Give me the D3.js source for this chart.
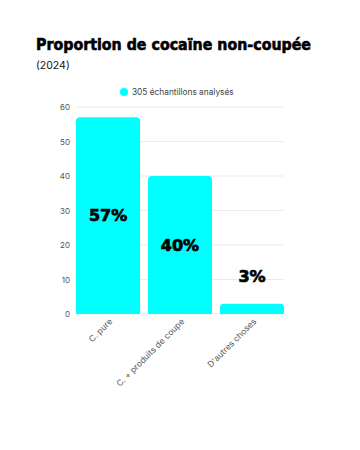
<!DOCTYPE html>
<html>
<head>
<meta charset="utf-8">
<script src="https://cdn.jsdelivr.net/npm/d3@7"></script>
<style>
  body { margin: 0; background: #fff; }
  svg { display: block; }
</style>
</head>
<body>
<svg id="chart" width="360" height="450"></svg>
<script>
// --- DATA ---
const categories = ["C. pure", "C. + produits de coupe", "D'autres choses"];
const values = [57, 40, 3];
const yTicks = [0, 10, 20, 30, 40, 50, 60];
const seriesName = "305 échantillons analysés";

const svg = d3.select("#chart");
const color = "#00ffff";

// --- TITLE ---
svg.append("text")
  .attr("x", 36).attr("y", 50)
  .attr("font-family", "'DejaVu Sans', sans-serif")
  .attr("font-weight", "bold")
  .attr("font-size", 15)
  .attr("fill", "#000")
  .attr("stroke", "#000")
  .attr("stroke-width", 0.6)
  .attr("textLength", 275)
  .attr("lengthAdjust", "spacingAndGlyphs")
  .text("Proportion de cocaïne non-coupée");

svg.append("text")
  .attr("x", 36).attr("y", 69)
  .attr("font-family", "Inter, sans-serif")
  .attr("font-size", 10.5)
  .attr("fill", "#111")
  .text("(2024)");

// --- LEGEND ---
svg.append("circle")
  .attr("cx", 124).attr("cy", 92).attr("r", 4)
  .attr("fill", color);
svg.append("text")
  .attr("x", 132).attr("y", 95)
  .attr("font-family", "Inter, sans-serif")
  .attr("font-size", 8.3)
  .attr("fill", "#444")
  .text(seriesName);

// --- SCALES ---
const x = d3.scaleBand()
  .domain(categories)
  .range([76, 284])
  .paddingInner(0.11)
  .paddingOuter(0);

const y = d3.scaleLinear()
  .domain([0, 60])
  .range([314, 107]);

// --- GRID ---
svg.append("g")
  .selectAll("line")
  .data(yTicks)
  .enter()
  .append("line")
  .attr("x1", 76).attr("x2", 284)
  .attr("y1", d => y(d)).attr("y2", d => y(d))
  .attr("stroke", "#ebebeb")
  .attr("stroke-width", 1);

// --- Y AXIS ---
const yAxis = svg.append("g")
  .attr("transform", "translate(76,0)")
  .call(d3.axisLeft(y).tickValues(yTicks).tickSize(0).tickPadding(6));
yAxis.select(".domain").remove();
yAxis.selectAll("text")
  .attr("font-family", "Inter, sans-serif")
  .attr("font-size", 8)
  .attr("fill", "#555");

// --- BARS ---
const r = 4;
svg.append("g")
  .selectAll("path")
  .data(values)
  .enter()
  .append("path")
  .attr("fill", color)
  .attr("d", (d, i) => {
    const x0 = x(categories[i]), w = x.bandwidth();
    const y0 = y(d), y1 = y(0);
    return `M${x0},${y1}V${y0 + r}Q${x0},${y0} ${x0 + r},${y0}` +
      `H${x0 + w - r}Q${x0 + w},${y0} ${x0 + w},${y0 + r}V${y1}Z`;
  });

// --- VALUE LABELS ---
svg.append("g")
  .selectAll("text")
  .data(values)
  .enter()
  .append("text")
  .attr("x", (d, i) => x(categories[i]) + x.bandwidth() / 2)
  .attr("y", d => d < 10 ? y(d) - 27 : y(d / 2))
  .attr("dy", "0.35em")
  .attr("text-anchor", "middle")
  .attr("font-family", "'DejaVu Sans', sans-serif")
  .attr("font-weight", "bold")
  .attr("font-size", 16)
  .attr("fill", "#000")
  .attr("stroke", "#000")
  .attr("stroke-width", 0.7)
  .text(d => d + "%");

// --- X LABELS ---
svg.append("g")
  .selectAll("text")
  .data(categories)
  .enter()
  .append("text")
  .attr("transform", d => `translate(${x(d) + x.bandwidth() / 2 + 5},${322}) rotate(-45)`)
  .attr("text-anchor", "end")
  .attr("font-family", "Inter, sans-serif")
  .attr("font-size", 8.5)
  .attr("fill", "#555")
  .text(d => d);
</script>
</body>
</html>
